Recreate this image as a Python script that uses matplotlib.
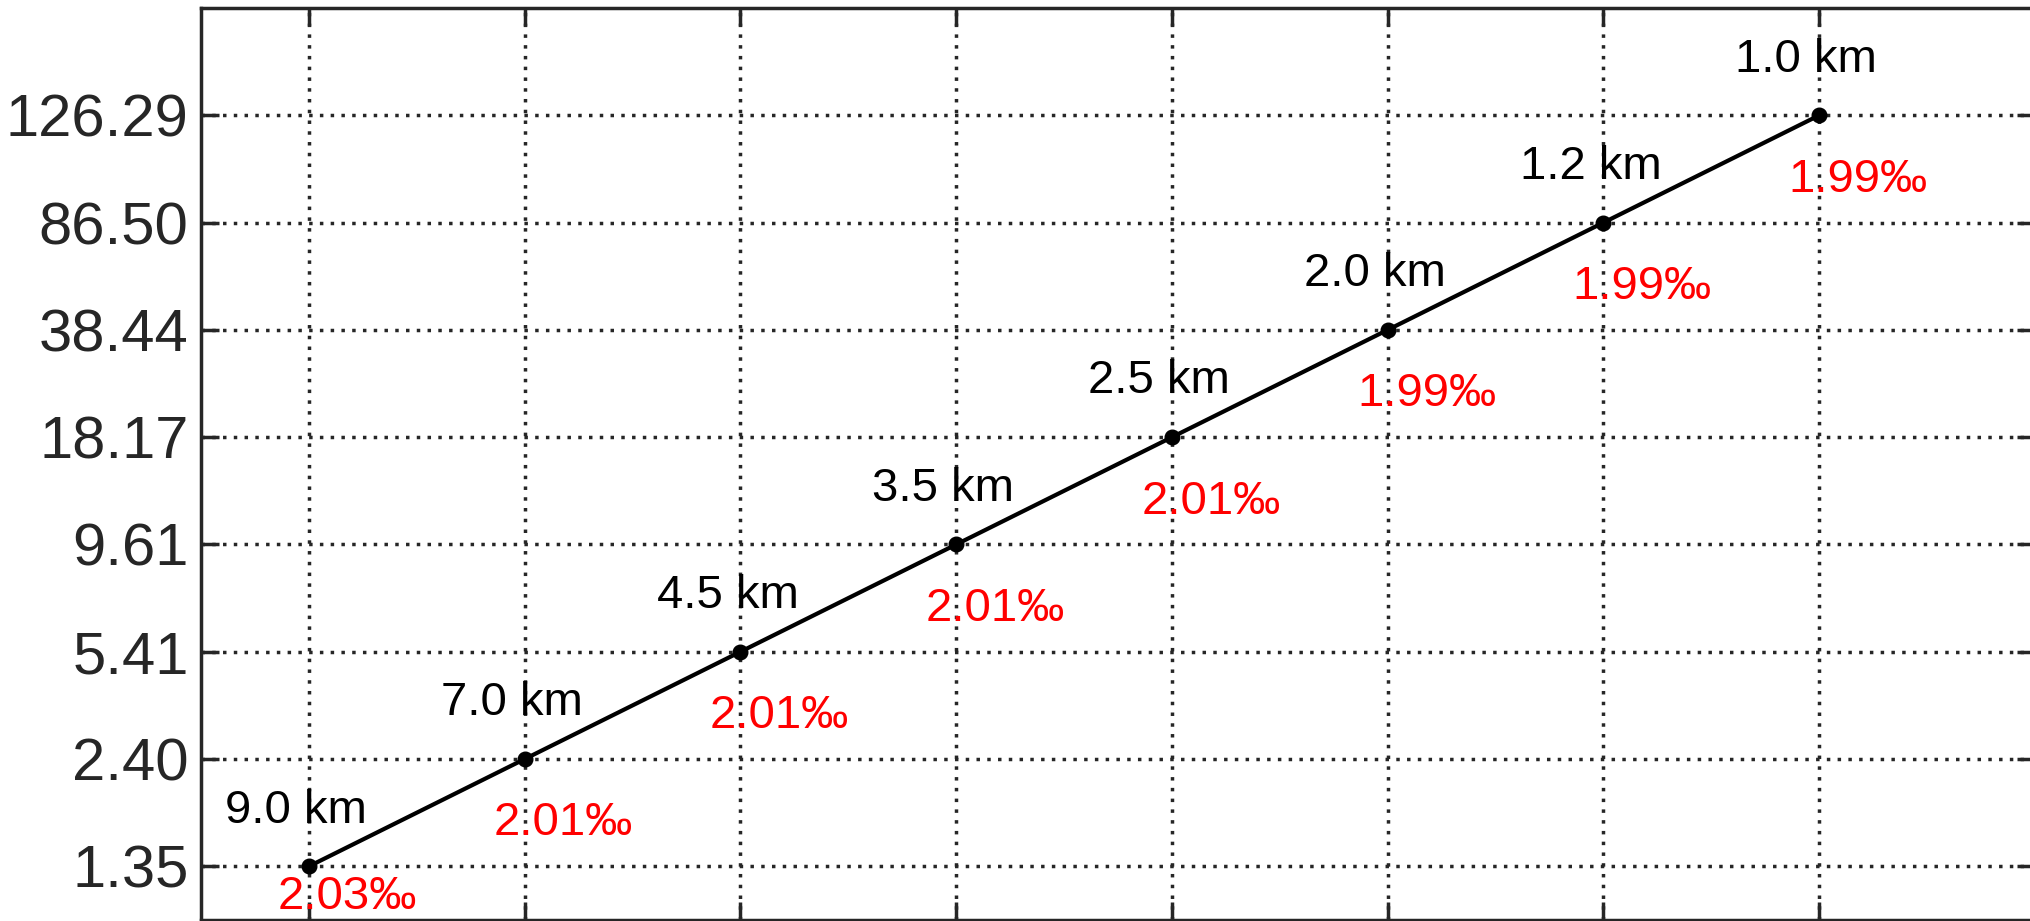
import numpy as np
import matplotlib
matplotlib.use("Agg")
import matplotlib.pyplot as plt

# Values (bottom to top)
y_labels = ["1.35", "2.40", "5.41", "9.61", "18.17", "38.44", "86.50", "126.29"]
dist_labels = ["9.0 km", "7.0 km", "4.5 km", "3.5 km", "2.5 km", "2.0 km", "1.2 km", "1.0 km"]
rate_labels = ["2.03‰", "2.01‰", "2.01‰", "2.01‰", "2.01‰", "1.99‰", "1.99‰", "1.99‰"]

plt.rcParams["font.family"] = ["Liberation Sans", "DejaVu Sans"]

x = np.arange(1, len(y_labels) + 1)
y = np.arange(1, len(y_labels) + 1)

fig = plt.figure(figsize=(20.30, 9.21), dpi=100)
ax = fig.add_axes([201 / 2030, 1 / 921, (2035 - 201) / 2030, (920 - 8) / 921])

ax.plot(x, y, color="black", lw=3, marker="o", markersize=10.5, zorder=3)

for i, (xi, yi, d, r) in enumerate(zip(x, y, dist_labels, rate_labels)):
    ax.text(xi - 0.06, yi + 0.52, d, ha="center", va="center", fontsize=34, color="black")
    # lowest label sits closer so it stays inside the figure
    dy = -0.6 if i > 0 else -0.29
    ax.text(xi + 0.18, yi + dy, r, ha="center", va="center", fontsize=34, color="red")

ax.set_xlim(0.5, 9)
ax.set_ylim(0.5, 9)
ax.set_xticks(x)
ax.set_xticklabels([])
ax.set_yticks(y)
ax.set_yticklabels(y_labels)

ax.grid(True, color="#262626", lw=2.5, linestyle=(0, (1, 2.1)), dash_capstyle="butt")
ax.tick_params(direction="in", length=13, width=2.5, color="#262626",
               labelsize=43, labelcolor="#262626", pad=9,
               top=True, right=True)
for s in ax.spines.values():
    s.set_linewidth(2.5)
    s.set_color("#262626")

fig.savefig("out.png", dpi=100)
